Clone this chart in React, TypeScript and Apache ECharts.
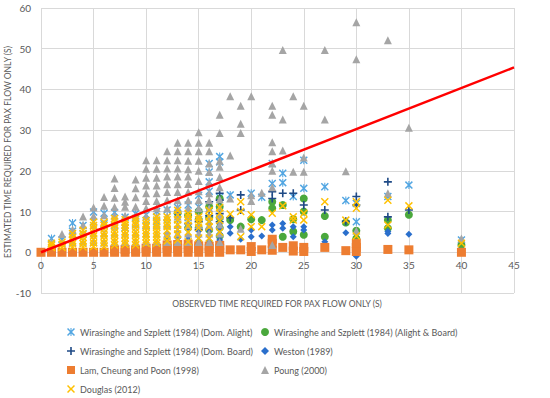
import React, { useEffect, useRef } from "react";
import * as echarts from "echarts";

const SERIES_NAMES = [
  "Wirasinghe and Szplett (1984) (Dom. Alight)",
  "Wirasinghe and Szplett (1984) (Alight & Board)",
  "Wirasinghe and Szplett (1984) (Dom. Board)",
  "Weston (1989)",
  "Lam, Cheung and Poon (1998)",
  "Poung (2000)",
  "Douglas (2012)",
];
const SERIES_COLORS = ["#52a6e2", "#4aa83c", "#1f4a86", "#2a6fcc", "#ed7d31", "#a5a5a5", "#ffc000"];

const X_TITLE = "OBSERVED TIME REQUIRED FOR PAX FLOW ONLY (S)";
const Y_TITLE = "ESTIMATED TIME REQUIRED FOR PAX FLOW ONLY (S)";
const X_MIN = 0, X_MAX = 45, X_STEP = 5;
const Y_MIN = -10, Y_MAX = 60, Y_STEP = 10;

// each entry: [observed x, [estimated y values at that x]]
const domAlight: [number, number[]][] = [
  [1, [3.4]], [2, [3.1]], [3, [7.2, 5.2]], [4, [6.6, 4.5]], [5, [9.9, 7.5]], [6, [9.6, 7]],
  [7, [9.8, 6.5]], [8, [8.6, 6]], [9, [9.5, 7]], [10, [9.2, 6.5]], [11, [10, 7.5]], [12, [10.4, 7]],
  [13, [11, 8]], [14, [11.6, 8.5]], [15, [14, 11.2, 9]], [16, [21.8, 19.7, 17.3, 15]],
  [17, [23.5, 22.2, 13.5]], [18, [14.1]], [20, [14.5]], [21, [13.5]], [22, [21.8, 16.9]],
  [23, [19.4, 17.1]], [24, [13.7]], [25, [22.6, 15.7]], [27, [16.1]], [29, [12.7]],
  [30, [12, 7.5]], [33, [13.7]], [35, [16.5]], [40, [3]],
];
const alightBoard: [number, number[]][] = [
  [13, [9.6]], [14, [9, 6]], [15, [10, 8, 6]], [16, [11.2, 8.5, 5.5]], [17, [13.2, 11.2, 8.5, 6, 4]],
  [18, [7.9]], [19, [6.3]], [20, [8.1]], [21, [7.9]], [22, [12.4, 10.8]], [23, [11.6, 3.8]],
  [24, [8.1, 5.1]], [25, [13.2, 10, 4.3]], [27, [8.9, 3.8]], [29, [7.3]], [30, [5.3, 3.4]],
  [33, [7.9, 5.9]], [35, [9.2]], [40, [1.8]],
];
const domBoard: [number, number[]][] = [
  [14, [7]], [15, [7.5, 5.5]], [16, [12.4, 9]], [17, [14.5, 12.8, 9.5, 7.5]], [18, [8.5]],
  [19, [14.1, 10.4]], [22, [14.9, 13.2]], [23, [14.5]], [24, [14.5]], [25, [11.6]], [27, [10.4]],
  [29, [7.6]], [30, [13.7, 11.6]], [33, [17.3, 8.7]], [35, [10.4]],
];
const weston: [number, number[]][] = [
  [12, [4.5, 3.3]], [13, [9.4, 5, 3.5]], [14, [6, 4, 3]], [15, [6.5, 5.2, 4, 2.8]],
  [16, [7, 5.5, 4, 2.8]], [17, [7, 6, 4.5, 3]], [18, [6.3, 4.7]], [19, [3.2]], [20, [5.5, 3.8]],
  [21, [4]], [22, [6.7, 5.5]], [23, [7.1, 5.9]], [24, [6.3, 3.8]], [25, [6.3, 5.5]], [27, [2.6]],
  [29, [4.8]], [30, [-1]], [33, [5.1, 4.6]], [35, [4.4]],
];
const lam: [number, number[]][] = [
  [0, [0]], [1, [0]], [2, [0]], [3, [0]], [4, [0]], [5, [0]], [6, [0]], [7, [0, 0.6]],
  [8, [0, 0.7]], [9, [0, 0.6]], [10, [0, 1]], [11, [0, 1]], [12, [0, 1, 1.8]], [13, [0, 1, 1.9]],
  [14, [0, 1, 2]], [15, [0, 1, 1.6]], [16, [0, 0.9, 1.5]], [17, [0, 1, 1.7]], [18, [0.6]],
  [19, [0.6]], [20, [0.2, 1.4]], [21, [0.6]], [22, [0.5, 2.2, 3.2]], [23, [1.2]], [24, [0.3, 1.6]],
  [25, [0.2, 1.2]], [27, [1.2]], [29, [0.4]], [30, [0.2, 1.2, 2.2]], [33, [0.7]], [35, [0.6]], [40, [0]],
];
const poung: [number, number[]][] = [
  [1, [2.4]], [2, [2.3, 4.5]], [3, [2.5, 4.5, 5.6]], [4, [2.6, 4.6, 6.7, 8.8]],
  [5, [2.5, 4.6, 6.7, 8.9, 11]], [6, [2.4, 4.6, 6.8, 9.1, 11.4, 13.6]],
  [7, [2.5, 4.6, 6.8, 9, 11.1, 13.4, 15.8, 18.1]], [8, [2.5, 4.6, 6.8, 9, 11.2, 12.4, 13.7]],
  [9, [2.5, 4.6, 6.8, 9, 11.2, 13.5, 15.7, 17.9]],
  [10, [2.5, 4.6, 6.7, 8.8, 10.8, 12.6, 14.5, 16.4, 18.3, 20.5, 22.6]],
  [11, [2.5, 4.6, 6.7, 8.8, 10.8, 12.6, 14.5, 16.4, 18.3, 20.5, 22.6]],
  [12, [2.5, 4.6, 6.7, 8.8, 10.8, 12.8, 14.8, 16.7, 18.6, 20.6, 22.6, 24.8]],
  [13, [2.5, 4.6, 6.7, 8.8, 10.8, 12.8, 14.8, 16.7, 18.6, 20.6, 22.6, 24.8, 26.9]],
  [14, [2.5, 4.6, 6.7, 8.8, 10.8, 12.8, 14.8, 16.8, 18.6, 20.4, 22.5, 24.8, 26.9]],
  [15, [2.5, 4.6, 6.7, 8.8, 10.8, 12.8, 15, 17.5, 20, 22.5, 24.8, 26.9, 29.5]],
  [16, [2.5, 4.6, 6.7, 8.8, 10.8, 12.8, 14.5, 17, 19.7, 21.8, 24.8, 26.9]],
  [17, [2.5, 4.6, 6.8, 9, 11, 13, 16, 18.5, 21, 22.5, 29.3, 33.8]],
  [18, [13.2, 23.8, 38.3]], [19, [5.8, 29.3, 31.6, 36]], [20, [12.6, 14, 38.3]], [21, [14.6]],
  [22, [1.8, 16, 20, 21.8, 24.8, 27, 33.8, 36]], [23, [25, 32.6, 49.7]], [24, [19.8, 38.3]],
  [25, [19.8, 23.3, 36]], [27, [32.6, 49.7]], [29, [19.9]], [30, [5.3, 47.4, 56.5]],
  [33, [14.5, 52.1]], [35, [30.6]], [40, [3.4]],
];
const douglas: [number, number[]][] = [
  [1, [1.2, 1.7, 2.2]], [2, [1.2, 1.9, 2.5]], [3, [1.3, 2.1, 2.9, 3.7, 4.6]],
  [4, [1.3, 2.1, 2.9, 3.7, 4.6, 5.4]], [5, [1.4, 2.3, 3.2, 4, 4.8, 5.7, 6.6, 7.4]],
  [6, [1.4, 2.3, 3.2, 4, 4.8, 5.7, 6.6, 7.4]], [7, [1.8, 2.6, 3.4, 4.2, 5, 5.9, 6.8, 7.6, 8.3]],
  [8, [1.9, 2.7, 3.5, 4.3, 5.1, 5.9, 6.7, 7.4, 8]], [9, [1.8, 2.6, 3.4, 4.2, 5, 5.9, 6.8, 7.6, 8.3]],
  [10, [2.2, 3, 3.8, 4.6, 5.4, 6.2, 7, 7.8]], [11, [2.2, 3, 3.8, 4.6, 5.4, 6.2, 7, 7.9, 8.7]],
  [12, [2.8, 3.8, 5.4, 6.3, 7.2, 8, 8.7]], [13, [3, 4.5, 5.6, 6.8, 8, 9.2, 10.3]],
  [14, [2.6, 5, 6.5, 7.8, 8.8, 9.5]], [15, [3.5, 6, 7.2, 8, 8.7]], [16, [3.5, 6.2, 7.6, 8.8, 10.3]],
  [17, [5, 7.8, 9.6, 11]], [18, [9.4]], [19, [12.4, 10, 3.8]], [20, [9.2, 6.3]], [21, [6.3]],
  [22, [9.6]], [23, [11.4]], [24, [8.7, 7.9]], [25, [9.6, 7.9]], [27, [12.4]], [29, [7.9]],
  [30, [12.4, 10.8, 4]], [33, [12.8, 6.7]], [35, [11.4]], [40, [2.2]],
];
const trendX = [0, 45];
const trendY = [0, 45.4];

const CROSS = "M0,1.3L1.3,0L5,3.7L8.7,0L10,1.3L6.3,5L10,8.7L8.7,10L5,6.3L1.3,10L0,8.7L3.7,5Z";
const STAR = "path://" + CROSS + "M4.35,0L5.65,0L5.65,10L4.35,10Z";
const PLUS = "path://M4,0L6,0L6,4L10,4L10,6L6,6L6,10L4,10L4,6L0,6L0,4L4,4Z";
const XMARK = "path://" + CROSS;

const toPoints = (cols: [number, number[]][]) =>
  cols.flatMap(([x, ys]) => ys.map((y) => [x, y]));

const FONT = "Lato";
const TXT = "#595959";
const GRID = "#d9d9d9";

const GRID_TOP = 8;
const GRID_BOTTOM = 105;
const CHART_H = 398;

// legend slots: [series index, left, top]
const LEGEND_SLOTS: [number, number, number][] = [
  [0, 67, 326], [1, 261, 326],
  [2, 67, 345], [3, 261, 345],
  [4, 67, 364], [5, 261, 364],
  [6, 67, 383],
];

export default function App() {
  const ref = useRef<HTMLDivElement>(null);
  useEffect(() => {
    if (!ref.current) return;
    document.body.style.margin = "0";
    const chart = echarts.init(ref.current, undefined, { renderer: "svg" });
    const datasets = [domAlight, alightBoard, domBoard, weston, lam, poung, douglas];
    const symbols = [STAR, "circle", PLUS, "diamond", "rect", "triangle", XMARK];
    const sizes = [8, 8, 8, 7, 9, 8, 8];
    const scatter = datasets.map((d, i) => ({
      name: SERIES_NAMES[i],
      type: "scatter",
      data: toPoints(d),
      symbol: symbols[i],
      symbolSize: sizes[i],
      itemStyle: { color: SERIES_COLORS[i], opacity: 1 },
      silent: true,
    }));
    // move the x axis labels from the bottom edge up to the y = 0 line
    const plotH = CHART_H - GRID_TOP - GRID_BOTTOM;
    const zeroOffset = -plotH * (0 - Y_MIN) / (Y_MAX - Y_MIN);
    chart.setOption({
      animation: false,
      textStyle: { fontFamily: FONT },
      grid: { left: 41, right: 36, top: GRID_TOP, bottom: GRID_BOTTOM },
      xAxis: {
        type: "value",
        min: X_MIN,
        max: X_MAX,
        interval: X_STEP,
        position: "bottom",
        offset: zeroOffset,
        axisLine: { show: false, onZero: false },
        axisTick: { show: false },
        axisLabel: { color: TXT, fontSize: 10, margin: 8, showMinLabel: true, showMaxLabel: true, fontFamily: FONT },
        splitLine: { show: true, lineStyle: { color: GRID } },
      },
      yAxis: {
        type: "value",
        min: Y_MIN,
        max: Y_MAX,
        interval: Y_STEP,
        axisLine: { show: false },
        axisTick: { show: false },
        axisLabel: { color: TXT, fontSize: 10, margin: 10, fontFamily: FONT },
        splitLine: { show: true, lineStyle: { color: GRID } },
      },
      legend: LEGEND_SLOTS.map(([i, left, top]) => ({
        data: [SERIES_NAMES[i]],
        orient: "horizontal",
        left,
        top,
        padding: 0,
        itemWidth: 8,
        itemHeight: 8,
        selectedMode: false,
        textStyle: { color: TXT, fontSize: 9, lineHeight: 12, fontFamily: FONT },
      })),
      graphic: [
        {
          type: "text",
          x: 277,
          y: 304,
          style: { text: X_TITLE, fill: TXT, font: `8.5px ${FONT}`, align: "center", verticalAlign: "middle" },
        },
        {
          type: "text",
          x: 8,
          y: 152,
          rotation: Math.PI / 2,
          style: { text: Y_TITLE, fill: TXT, font: `8.5px ${FONT}`, align: "center", verticalAlign: "middle" },
        },
      ],
      series: [
        ...scatter,
        {
          name: "trend",
          type: "line",
          data: trendX.map((x, i) => [x, trendY[i]]),
          showSymbol: false,
          symbol: "none",
          lineStyle: { color: "#ff0000", width: 2.5 },
          z: 10,
          silent: true,
        },
      ],
    });
    return () => chart.dispose();
  }, []);
  return <div ref={ref} style={{ width: 550, height: 398 }} />;
}
